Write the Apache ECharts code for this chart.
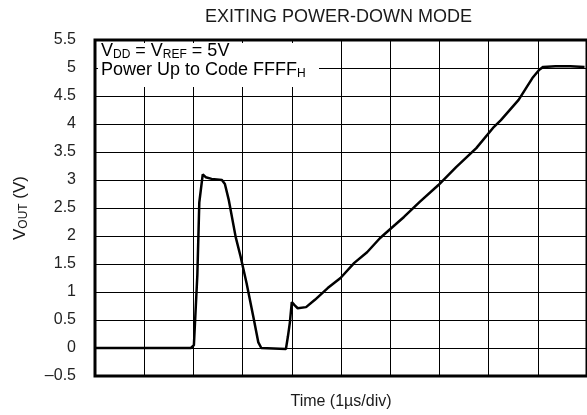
<!DOCTYPE html>
<html>
<head>
<meta charset="utf-8">
<script src="https://cdn.jsdelivr.net/npm/echarts@6/dist/echarts.min.js"></script>
<style>html,body{margin:0;padding:0;background:#fff}#c{width:587px;height:415px}</style>
</head>
<body>
<div id="c"></div>
<script>
// time in divisions (1 µs/div), output voltage in V
var times = [0, 1.95, 2.01, 2.08, 2.12, 2.19, 2.25, 2.37, 2.58, 2.64, 2.72, 2.86, 2.96, 3.08, 3.22, 3.32, 3.38, 3.88, 3.92, 3.96, 4.00, 4.06, 4.12, 4.29, 4.47, 4.73, 4.99, 5.27, 5.53, 5.79, 6.10, 6.28, 6.60, 6.98, 7.34, 7.75, 8.11, 8.25, 8.61, 8.89, 9.03, 9.11, 9.36, 9.66, 9.95];
var volts = [0, 0, 0.05, 1.3, 2.6, 3.1, 3.05, 3.02, 3.0, 2.93, 2.64, 1.98, 1.63, 1.16, 0.55, 0.1, 0, -0.02, 0.2, 0.45, 0.82, 0.76, 0.71, 0.73, 0.86, 1.07, 1.25, 1.52, 1.71, 1.96, 2.2, 2.34, 2.61, 2.91, 3.23, 3.57, 3.95, 4.07, 4.43, 4.82, 4.97, 5.02, 5.03, 5.03, 5.02];
var yTickValues = [-0.5, 0, 0.5, 1, 1.5, 2, 2.5, 3, 3.5, 4, 4.5, 5, 5.5];
var yTickLabels = ['\u20130.5', '0', '0.5', '1', '1.5', '2', '2.5', '3', '3.5', '4', '4.5', '5', '5.5'];
var titleText = 'EXITING POWER-DOWN MODE';
var xName = 'Time (1\u00b5s/div)';

var FONT = 'Liberation Sans, Arial, sans-serif';
var data = times.map(function (t, i) { return [t, volts[i]]; });
var chart = echarts.init(document.getElementById('c'), null, {renderer: 'canvas'});
chart.setOption({
  animation: false,
  backgroundColor: '#fff',
  title: {
    text: titleText, left: 205, top: 8, padding: 0,
    textStyle: {fontFamily: FONT, fontSize: 18, fontWeight: 'normal', color: '#1a1a1a'}
  },
  grid: {left: 95, right: -5, top: 40, bottom: 39, show: true, borderWidth: 3, borderColor: '#000', backgroundColor: 'transparent'},
  xAxis: {
    type: 'value', min: 0, max: 10, interval: 1,
    name: xName, nameLocation: 'middle', nameGap: 18,
    nameTextStyle: {fontFamily: FONT, fontSize: 16, color: '#1a1a1a'},
    axisLine: {show: false}, axisTick: {show: false}, axisLabel: {show: false},
    splitLine: {show: true, lineStyle: {color: '#000', width: 1}}
  },
  yAxis: {
    type: 'value', min: -0.5, max: 5.5, interval: 0.5,
    name: '{a|V}{s|OUT}{a| (V)}', nameLocation: 'middle', nameGap: 65,
    nameTextStyle: {
      fontFamily: FONT, color: '#1a1a1a',
      rich: {
        a: {fontFamily: FONT, fontSize: 17, lineHeight: 19, color: '#1a1a1a'},
        s: {fontFamily: FONT, fontSize: 12, lineHeight: 6, verticalAlign: 'bottom', color: '#1a1a1a'}
      }
    },
    axisLine: {show: false}, axisTick: {show: false},
    axisLabel: {
      fontFamily: FONT, fontSize: 16, color: '#222', margin: 19,
      formatter: function (v) {
        var i = yTickValues.indexOf(Math.round(v * 10) / 10);
        return i >= 0 ? yTickLabels[i] : '';
      }
    },
    splitLine: {show: true, lineStyle: {color: '#000', width: 1}}
  },
  graphic: [
    {type: 'rect', z: 100, shape: {x: 98, y: 43, width: 221, height: 44}, style: {fill: '#fff'}},
    {
      type: 'text', z: 101, x: 101, y: 42,
      style: {
        text: '{a|V}{s|DD}{a| = V}{s|REF}{a| = 5V}\n{a|Power Up to Code FFFF}{s|H}',
        fill: '#000',
        rich: {
          a: {fontFamily: FONT, fontSize: 18, lineHeight: 19, fill: '#000'},
          s: {fontFamily: FONT, fontSize: 12, lineHeight: 6, verticalAlign: 'bottom', fill: '#000'}
        }
      }
    }
  ],
  series: [{
    type: 'line', data: data, showSymbol: false, symbol: 'none',
    lineStyle: {color: '#000', width: 2.5}, z: 10, clip: true
  }]
});
</script>
</body>
</html>
